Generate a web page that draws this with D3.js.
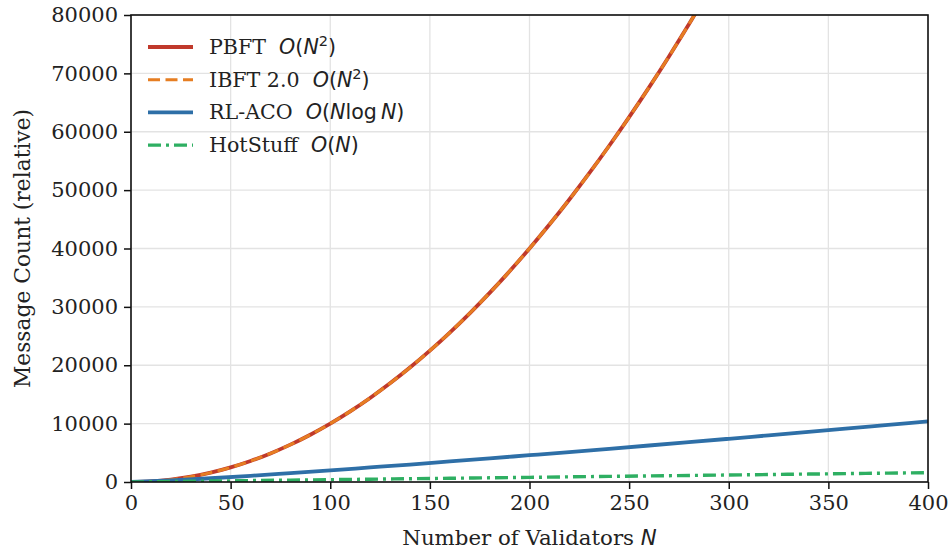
<!DOCTYPE html>
<html>
<head>
<meta charset="utf-8">
<script src="https://cdn.jsdelivr.net/npm/d3@7"></script>
<style>
body { margin:0; background:#fff; }
text { font-family: "DejaVu Serif", serif; }
</style>
</head>
<body>
<script>
// number of validators, sampled every 10 for the quadratic curves
var nDense = [0,10,20,30,40,50,60,70,80,90,100,110,120,130,140,150,160,170,180,190,200,210,220,230,240,250,260,270,280,290];
// PBFT and IBFT 2.0 lie on top of each other
var pbft = [0,100,400,900,1600,2500,3600,4900,6400,8100,10000,12100,14400,16900,19600,22500,25600,28900,32400,36100,40000,44100,48400,52900,57600,62500,67600,72900,78400,84100];
var ibft = [0,100,400,900,1600,2500,3600,4900,6400,8100,10000,12100,14400,16900,19600,22500,25600,28900,32400,36100,40000,44100,48400,52900,57600,62500,67600,72900,78400,84100];

// the flatter curves, sampled every 20
var nSparse = [0,20,40,60,80,100,120,140,160,180,200,220,240,260,280,300,320,340,360,380,400];
var rlaco = [0,260,640,1060,1520,1990,2490,2990,3520,4050,4590,5130,5690,6250,6820,7400,7990,8580,9170,9770,10370];
var hotstuff = [0,80,160,240,320,400,480,560,640,720,800,880,960,1040,1120,1200,1280,1360,1440,1520,1600];

var xTicks = [0,50,100,150,200,250,300,350,400];
var yTicks = [0,10000,20000,30000,40000,50000,60000,70000,80000];

var names = ["PBFT", "IBFT 2.0", "RL-ACO", "HotStuff"];
// mathtext parts: [text, italic?, superscript?]
var maths = [
  [["O",1,0],["(",0,0],["N",1,0],["2",0,1],[")",0,0]],
  [["O",1,0],["(",0,0],["N",1,0],["2",0,1],[")",0,0]],
  [["O",1,0],["(",0,0],["N",1,0],["log",0,0],["\u2009",0,0],["N",1,0],[")",0,0]],
  [["O",1,0],["(",0,0],["N",1,0],[")",0,0]]
];

var W = 950, H = 552;
var m = {left:131, right:22, top:15, bottom:70};
var w = W - m.left - m.right, h = H - m.top - m.bottom;

var svg = d3.select("body").append("svg").attr("width", W).attr("height", H);
var g = svg.append("g").attr("transform", "translate(" + m.left + "," + m.top + ")");

var x = d3.scaleLinear().domain([0,400]).range([0,w]);
var y = d3.scaleLinear().domain([0,80000]).range([h,0]);

// grid
g.append("g").selectAll("line").data(xTicks).enter().append("line")
  .attr("x1", d => x(d)).attr("x2", d => x(d)).attr("y1", 0).attr("y2", h)
  .attr("stroke", "#e3e3e3").attr("stroke-width", 1.3);
g.append("g").selectAll("line").data(yTicks).enter().append("line")
  .attr("y1", d => y(d)).attr("y2", d => y(d)).attr("x1", 0).attr("x2", w)
  .attr("stroke", "#e3e3e3").attr("stroke-width", 1.3);

g.append("defs").append("clipPath").attr("id", "clip")
  .append("rect").attr("width", w).attr("height", h);

var line = d3.line().x(d => x(d[0])).y(d => y(d[1])).curve(d3.curveMonotoneX);
var plot = g.append("g").attr("clip-path", "url(#clip)");

var series = [
  {xs:nDense, ys:pbft, color:"#c0392b", width:3.8, dash:null},
  {xs:nDense, ys:ibft, color:"#e67e22", width:3, dash:"12,5.5"},
  {xs:nSparse, ys:rlaco, color:"#2e6fa7", width:3.8, dash:null},
  {xs:nSparse, ys:hotstuff, color:"#2eaf62", width:3.4, dash:"13,5,3,5"}
];

series.forEach(function(s) {
  plot.append("path")
    .attr("d", line(d3.zip(s.xs, s.ys)))
    .attr("fill", "none")
    .attr("stroke", s.color)
    .attr("stroke-width", s.width)
    .attr("stroke-dasharray", s.dash);
});

// axes
var xAxis = g.append("g").attr("transform", "translate(0," + h + ")")
  .call(d3.axisBottom(x).tickValues(xTicks).tickSize(7).tickSizeOuter(0).tickPadding(6));
var yAxis = g.append("g")
  .call(d3.axisLeft(y).tickValues(yTicks).tickFormat(d3.format("d")).tickSize(7).tickSizeOuter(0).tickPadding(6));
[xAxis, yAxis].forEach(function(a) {
  a.select(".domain").remove();
  a.selectAll("line").attr("stroke", "#111").attr("stroke-width", 1.5);
  a.selectAll("text").attr("font-family", "DejaVu Serif").attr("font-size", 21).attr("fill", "#222");
});

// frame
g.append("rect").attr("width", w).attr("height", h)
  .attr("fill", "none").attr("stroke", "#111").attr("stroke-width", 1.6);

// axis labels
var xl = svg.append("text").attr("x", m.left + w/2).attr("y", 545)
  .attr("text-anchor", "middle").attr("font-size", 21.3).attr("fill", "#222");
xl.append("tspan").text("Number of Validators ");
xl.append("tspan").attr("font-family", "DejaVu Sans").attr("font-style", "italic").text("N");

svg.append("text")
  .attr("transform", "translate(30," + (m.top + h/2) + ") rotate(-90)")
  .attr("text-anchor", "middle").attr("font-size", 21.8).attr("fill", "#222")
  .text("Message Count (relative)");

// legend
var leg = svg.append("g");
series.forEach(function(s, i) {
  var ly = 47 + i * 32.7;
  leg.append("line").attr("x1", 148).attr("x2", 193).attr("y1", ly).attr("y2", ly)
    .attr("stroke", s.color).attr("stroke-width", s.width)
    .attr("stroke-dasharray", s.dash);
  var t = leg.append("text").attr("x", 209).attr("y", ly + 7)
    .attr("font-size", 20.6).attr("fill", "#222");
  t.append("tspan").text(names[i] + "\u00a0\u00a0");
  maths[i].forEach(function(p) {
    var ts = t.append("tspan").attr("font-family", "DejaVu Sans").text(p[0]);
    if (p[1]) ts.attr("font-style", "italic");
    if (p[2]) ts.attr("font-size", 14.5).attr("dy", -8);
    else if (ts.node().previousSibling && d3.select(ts.node().previousSibling).attr("dy") == -8) ts.attr("dy", 8);
  });
});
</script>
</body>
</html>
